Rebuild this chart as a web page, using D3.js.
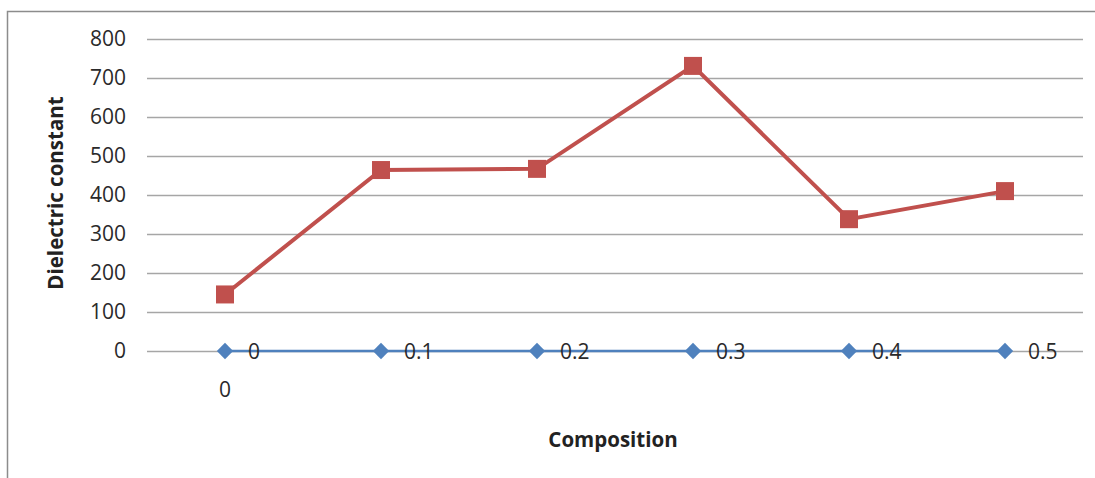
<!DOCTYPE html>
<html><head><meta charset="utf-8">
<script src="https://cdn.jsdelivr.net/npm/d3@7"></script>
<style>body{margin:0;background:#fff}svg{display:block}text{font-family:"Open Sans",sans-serif}</style>
</head><body>
<svg id="c" width="1095" height="478"></svg>
<script>
const categories = ["0","0.1","0.2","0.3","0.4","0.5"];
const axisTickLabels = ["0","","","","",""];
const compositionSeries = [0,0,0,0,0,0];
const compositionLabels = ["0","0.1","0.2","0.3","0.4","0.5"];
const dielectricSeries = [145,464,467,731,338,410];
const yTicks = [0,100,200,300,400,500,600,700,800];

(function(){
const svg = d3.select("#c");
const pL = 147, pR = 1083, pT = 39, pB = 351;
const x = d3.scaleBand().domain(categories).range([pL, pR]);
const cx = d => x(d) + x.bandwidth()/2;
const y = d3.scaleLinear().domain([0,800]).range([pB, pT]);

// frame
svg.append("path").attr("d","M7.5,478 L7.5,11.5 L1095,11.5").attr("fill","none").attr("stroke","#8c8c8c").attr("stroke-width",1.5);

// gridlines
const yAxis = d3.axisLeft(y).tickValues(yTicks).tickSize(-(pR-pL)).tickPadding(21).tickFormat(d3.format("d"));
const gy = svg.append("g").attr("transform",`translate(${pL},0)`).call(yAxis);
gy.select(".domain").remove();
gy.selectAll(".tick line").attr("stroke","#a6a6a6").attr("stroke-width",1.5);
gy.selectAll(".tick text").attr("font-size",21).attr("fill","#2a2a2a");

// x axis labels
const xAxis = d3.axisBottom(x).tickFormat((d,i)=>axisTickLabels[i]).tickSize(0).tickPadding(31);
const gx = svg.append("g").attr("transform",`translate(0,${pB})`).call(xAxis);
gx.select(".domain").remove();
gx.selectAll(".tick text").attr("font-size",21).attr("fill","#2a2a2a");

// blue series
const line = d3.line().x((d,i)=>cx(categories[i])).y(d=>y(d));
svg.append("path").datum(compositionSeries).attr("d",line).attr("fill","none").attr("stroke","#4F81BD").attr("stroke-width",2.5);
svg.selectAll(".dia").data(compositionSeries).join("path")
  .attr("transform",(d,i)=>`translate(${cx(categories[i])},${y(d)})`)
  .attr("d",d3.symbol(d3.symbolDiamond2, 170)).attr("fill","#4F81BD");
svg.selectAll(".lab").data(compositionSeries).join("text")
  .attr("x",(d,i)=>cx(categories[i])+23).attr("y",d=>y(d)+7.5)
  .attr("font-size",21).attr("fill","#2a2a2a").text((d,i)=>compositionLabels[i]);

// red series
svg.append("path").datum(dielectricSeries).attr("d",line).attr("fill","none").attr("stroke","#C0504D").attr("stroke-width",4);
svg.selectAll(".sq").data(dielectricSeries).join("rect")
  .attr("x",(d,i)=>cx(categories[i])-9).attr("y",d=>y(d)-9)
  .attr("width",18).attr("height",18).attr("fill","#C0504D");

// titles
svg.append("text").attr("x",613).attr("y",447).attr("text-anchor","middle").attr("font-weight","bold").attr("font-size",20.5).attr("fill","#222").text("Composition");
svg.append("text").attr("transform","translate(63,193) rotate(-90)").attr("text-anchor","middle").attr("font-weight","bold").attr("font-size",20.5).attr("fill","#222").text("Dielectric constant");
})();
</script>
</body></html>
